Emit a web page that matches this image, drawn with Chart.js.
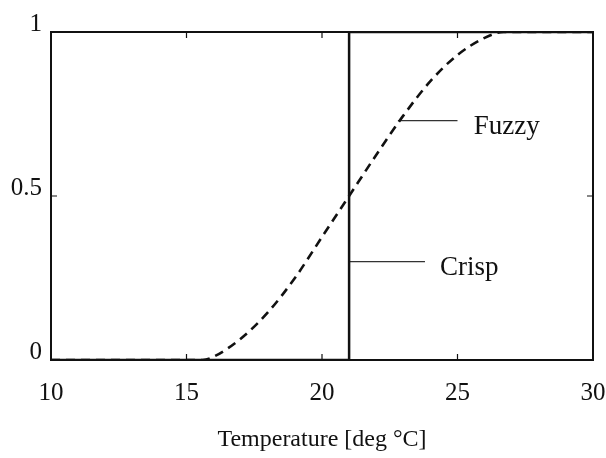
<!DOCTYPE html>
<html>
<head>
<meta charset="utf-8">
<script src="https://cdn.jsdelivr.net/npm/chart.js@4/dist/chart.umd.min.js"></script>
<style>
    html, body { margin: 0; padding: 0; background: #fff; }
    #wrap { width: 606px; height: 458px; }
</style>
</head>
<body>
<div id="wrap"><canvas id="chart" width="606" height="458"></canvas></div>
<script>
// Axis ticks
const xTicks = [10, 15, 20, 25, 30];
const yTicks = [0, 0.5, 1];
const yTickText = ['0', '0.5', '1'];

// Crisp set: step at 21 deg
const crispX = [10, 21, 21, 30];
const crispY = [0, 0, 1, 1];

// Fuzzy set: S-curve
const fuzzyX = [10, 15.6, 16, 17, 18, 19, 20, 21, 22, 23, 24, 25, 26, 26.7, 30];
const fuzzyY = [0, 0, 0.01, 0.065, 0.145, 0.25, 0.375, 0.5, 0.625, 0.745, 0.85, 0.93, 0.982, 1, 1];

// Labels with their leader lines
const labelNames = ['Fuzzy', 'Crisp'];
const leaderFromX = [22.8, 21];
const leaderToX = [25.0, 23.8];
const leaderY = [0.73, 0.30];
const labelX = [25.6, 24.35];
const labelY = [0.71, 0.28];

const serif = '"Liberation Serif", "DejaVu Serif", serif';

function toPoints(xs, ys) {
    return xs.map((x, i) => ({ x: x, y: ys[i] }));
}

// Frame, inward tick marks and curve labels
const framePlugin = {
    id: 'frame',
    afterDatasetsDraw(chart) {
        const { ctx, chartArea: a, scales } = chart;
        ctx.save();
        ctx.strokeStyle = '#111';
        ctx.lineWidth = 2;
        ctx.strokeRect(a.left, a.top, a.right - a.left, a.bottom - a.top);
        ctx.lineWidth = 1.2;
        ctx.beginPath();
        xTicks.slice(1, -1).forEach(v => {
            const px = scales.x.getPixelForValue(v);
            ctx.moveTo(px, a.bottom); ctx.lineTo(px, a.bottom - 6);
            ctx.moveTo(px, a.top); ctx.lineTo(px, a.top + 6);
        });
        yTicks.slice(1, -1).forEach(v => {
            const py = scales.y.getPixelForValue(v);
            ctx.moveTo(a.left, py); ctx.lineTo(a.left + 6, py);
            ctx.moveTo(a.right, py); ctx.lineTo(a.right - 6, py);
        });
        ctx.stroke();

        ctx.fillStyle = '#111';
        ctx.font = '27px ' + serif;
        ctx.textBaseline = 'middle';
        labelNames.forEach((name, i) => {
            ctx.fillText(name, scales.x.getPixelForValue(labelX[i]), scales.y.getPixelForValue(labelY[i]));
        });
        ctx.restore();
    }
};

const leaderSets = labelNames.map((name, i) => ({
    label: name + ' leader',
    data: [{ x: leaderFromX[i], y: leaderY[i] }, { x: leaderToX[i], y: leaderY[i] }],
    borderColor: '#333',
    borderWidth: 1.3,
    pointRadius: 0,
    fill: false
}));

new Chart(document.getElementById('chart'), {
    type: 'line',
    data: {
        datasets: [
            {
                label: 'Crisp',
                data: toPoints(crispX, crispY),
                borderColor: '#111',
                borderWidth: 2.5,
                pointRadius: 0,
                tension: 0,
                fill: false
            },
            {
                label: 'Fuzzy',
                data: toPoints(fuzzyX, fuzzyY),
                borderColor: '#111',
                borderWidth: 2.6,
                borderDash: [9, 6],
                pointRadius: 0,
                cubicInterpolationMode: 'monotone',
                fill: false
            },
            ...leaderSets
        ]
    },
    options: {
        responsive: false,
        animation: false,
        layout: { padding: { top: 32, right: 0, left: 0, bottom: 0 } },
        plugins: {
            legend: { display: false },
            tooltip: { enabled: false }
        },
        scales: {
            x: {
                type: 'linear',
                min: 10,
                max: 30,
                afterBuildTicks: s => { s.ticks = xTicks.map(v => ({ value: v })); },
                afterFit: s => {
                    s.height = 98;
                    s.paddingLeft = 0;
                    s.paddingRight = 13;
                },
                grid: { display: false, drawTicks: false },
                border: { display: false },
                ticks: {
                    padding: 18,
                    color: '#111',
                    maxRotation: 0,
                    font: { family: serif, size: 25 }
                },
                title: {
                    display: true,
                    text: 'Temperature [deg °C]',
                    color: '#111',
                    font: { family: serif, size: 24 },
                    padding: { top: 10 }
                }
            },
            y: {
                type: 'linear',
                min: 0,
                max: 1,
                afterBuildTicks: s => { s.ticks = yTicks.map(v => ({ value: v })); },
                afterFit: s => { s.width = 51; },
                grid: { display: false, drawTicks: false },
                border: { display: false },
                ticks: {
                    padding: 9,
                    labelOffset: -8,
                    color: '#111',
                    font: { family: serif, size: 25 },
                    callback: (v, i) => yTickText[i]
                }
            }
        }
    },
    plugins: [framePlugin]
});
</script>
</body>
</html>
